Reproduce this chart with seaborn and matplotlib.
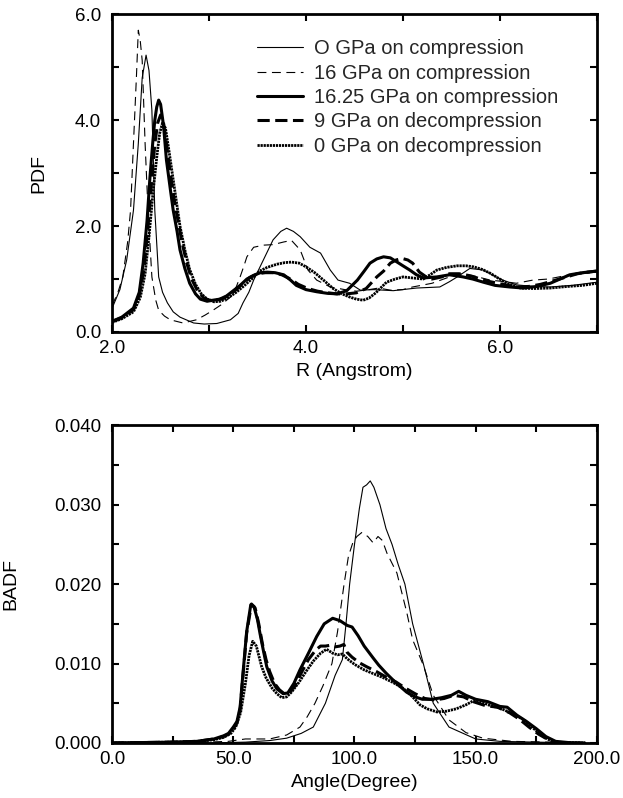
import pandas as pd
import matplotlib
matplotlib.use("Agg")
import matplotlib.pyplot as plt
import seaborn as sns
from matplotlib.ticker import MultipleLocator, FormatStrFormatter

# --- PDF (top panel) ---
r_0c = [2.00, 2.08, 2.15, 2.22, 2.27, 2.31, 2.35, 2.38, 2.41, 2.44, 2.48, 2.52, 2.57, 2.63, 2.70,
        2.84, 2.95, 3.08, 3.22, 3.30, 3.35, 3.41, 3.46, 3.56, 3.66, 3.74, 3.80, 3.87, 3.94, 4.04,
        4.15, 4.25, 4.33, 4.45, 4.56, 4.70, 4.90, 5.14, 5.38, 5.48, 5.56, 5.69, 5.83, 5.95, 6.03,
        6.17, 6.35, 6.52, 6.75, 7.00]
pdf_0c = [0.45, 0.8, 1.36, 2.3, 3.56, 4.8, 5.23, 4.94, 4.19, 2.3, 1.04, 0.75, 0.55, 0.38, 0.28,
          0.17, 0.15, 0.16, 0.23, 0.35, 0.55, 0.75, 0.98, 1.36, 1.74, 1.9, 1.96, 1.9, 1.8, 1.6,
          1.49, 1.17, 0.98, 0.92, 0.79, 0.8, 0.78, 0.83, 0.85, 0.95, 1.04, 1.2, 1.17, 1.05, 0.98,
          0.89, 0.86, 0.85, 0.88, 0.94]

r_16c = [2.00, 2.06, 2.11, 2.16, 2.19, 2.22, 2.25, 2.27, 2.29, 2.31, 2.34, 2.37, 2.41, 2.45, 2.48,
         2.54, 2.60, 2.73, 2.87, 2.96, 3.04, 3.13, 3.22, 3.28, 3.32, 3.36, 3.39, 3.46, 3.56, 3.66,
         3.77, 3.85, 3.94, 4.02, 4.11, 4.25, 4.40, 4.52, 4.65, 4.75, 4.87, 5.00, 5.10, 5.30, 5.48,
         5.60, 5.75, 5.90, 6.05, 6.17, 6.34, 6.50, 6.69, 6.85, 7.00]
pdf_16c = [0.5, 0.75, 1.04, 1.7, 2.3, 3.56, 4.8, 5.7, 5.5, 5.13, 3.56, 2.3, 1.04, 0.6, 0.41,
           0.3, 0.23, 0.17, 0.23, 0.32, 0.41, 0.52, 0.66, 0.85, 1.04, 1.25, 1.42, 1.6, 1.64, 1.65,
           1.7, 1.73, 1.55, 1.17, 0.98, 0.85, 0.8, 0.77, 0.8, 0.83, 0.79, 0.8, 0.85, 0.92, 1.04,
           1.1, 1.05, 0.98, 0.95, 0.92, 0.98, 1.0, 1.07, 1.1, 1.13]

r_1625c = [2.00, 2.10, 2.22, 2.28, 2.32, 2.36, 2.39, 2.42, 2.44, 2.46, 2.48, 2.50, 2.53, 2.56, 2.60,
           2.63, 2.67, 2.70, 2.75, 2.80, 2.86, 2.91, 2.98, 3.04, 3.11, 3.18, 3.25, 3.32, 3.39, 3.46,
           3.53, 3.60, 3.68, 3.77, 3.84, 3.90, 4.00, 4.11, 4.22, 4.32, 4.42, 4.53, 4.60, 4.66, 4.73,
           4.80, 4.87, 4.94, 5.00, 5.07, 5.14, 5.21, 5.35, 5.48, 5.62, 5.72, 5.83, 5.95, 6.10, 6.24,
           6.38, 6.52, 6.62, 6.72, 6.85, 7.00]
pdf_1625c = [0.2, 0.28, 0.45, 0.75, 1.3, 2.1, 2.92, 3.6, 4.0, 4.25, 4.38, 4.3, 3.9, 3.25, 2.7,
             2.3, 1.9, 1.55, 1.2, 0.92, 0.72, 0.62, 0.58, 0.6, 0.62, 0.68, 0.78, 0.88, 1.0, 1.07,
             1.12, 1.13, 1.12, 1.08, 0.98, 0.88, 0.8, 0.76, 0.73, 0.72, 0.78, 0.98, 1.15, 1.3, 1.38,
             1.42, 1.4, 1.32, 1.25, 1.17, 1.08, 1.02, 1.04, 1.08, 1.04, 1.0, 0.94, 0.88, 0.85, 0.83,
             0.86, 0.92, 1.0, 1.08, 1.12, 1.15]

r_9d = [2.00, 2.10, 2.22, 2.28, 2.33, 2.37, 2.41, 2.44, 2.47, 2.50, 2.53, 2.56, 2.60, 2.64, 2.68,
        2.72, 2.77, 2.82, 2.88, 2.94, 3.00, 3.07, 3.14, 3.21, 3.28, 3.35, 3.42, 3.50, 3.58, 3.66,
        3.75, 3.84, 3.92, 4.02, 4.12, 4.22, 4.32, 4.42, 4.52, 4.62, 4.73, 4.80, 4.87, 4.93, 4.99,
        5.05, 5.10, 5.17, 5.24, 5.30, 5.40, 5.48, 5.58, 5.70, 5.80, 5.90, 6.03, 6.17, 6.30, 6.42,
        6.52, 6.65, 6.80, 6.90, 7.00]
pdf_9d = [0.2, 0.27, 0.42, 0.7, 1.2, 2.0, 2.9, 3.55, 3.95, 4.1, 3.95, 3.55, 3.0, 2.5, 2.1,
          1.7, 1.3, 1.0, 0.78, 0.65, 0.6, 0.6, 0.63, 0.7, 0.8, 0.92, 1.03, 1.1, 1.12, 1.12,
          1.08, 1.0, 0.9, 0.82, 0.77, 0.74, 0.72, 0.72, 0.74, 0.82, 1.04, 1.15, 1.3, 1.36, 1.39,
          1.36, 1.3, 1.13, 1.04, 1.0, 1.04, 1.1, 1.1, 1.06, 1.0, 0.95, 0.9, 0.85, 0.86, 0.9,
          0.95, 1.02, 1.1, 1.13, 1.15]

r_0d = [2.00, 2.10, 2.22, 2.29, 2.34, 2.38, 2.42, 2.46, 2.49, 2.52, 2.55, 2.58, 2.62, 2.66, 2.70,
        2.75, 2.80, 2.86, 2.92, 2.98, 3.05, 3.12, 3.20, 3.28, 3.36, 3.44, 3.52, 3.60, 3.70, 3.78,
        3.85, 3.93, 4.00, 4.09, 4.18, 4.28, 4.37, 4.45, 4.52, 4.59, 4.65, 4.72, 4.83, 4.92, 5.00,
        5.10, 5.21, 5.28, 5.35, 5.45, 5.56, 5.65, 5.73, 5.82, 5.90, 5.98, 6.07, 6.21, 6.35, 6.52,
        6.70, 6.85, 7.00]
pdf_0d = [0.18, 0.25, 0.38, 0.65, 1.1, 1.8, 2.6, 3.3, 3.75, 3.95, 3.85, 3.5, 3.0, 2.5, 2.0,
          1.55, 1.18, 0.9, 0.72, 0.62, 0.57, 0.58, 0.65, 0.75, 0.87, 1.0, 1.15, 1.22, 1.28, 1.31,
          1.32, 1.3, 1.23, 1.12, 0.98, 0.82, 0.72, 0.66, 0.62, 0.6, 0.64, 0.74, 0.94, 1.0, 1.04,
          1.02, 1.0, 1.08, 1.17, 1.22, 1.25, 1.25, 1.23, 1.18, 1.11, 1.02, 0.92, 0.83, 0.82, 0.83,
          0.86, 0.88, 0.92]

# --- BADF (bottom panel) ---
a_0c = [0, 20, 40, 55, 65, 72, 78, 83, 88, 92, 95, 96.5, 98, 100, 102, 103.5, 105, 106.5, 108,
        110.5, 113, 115.5, 118, 120.8, 124, 128.4, 132.5, 139, 150, 160, 175, 195]
b_0c = [0, 0, 0, 0.0001, 0.0003, 0.0006, 0.0012, 0.002, 0.005, 0.0085, 0.0105, 0.015, 0.020,
        0.025, 0.0295, 0.0322, 0.0325, 0.033, 0.0322, 0.030, 0.027, 0.025, 0.0225, 0.020, 0.015,
        0.010, 0.005, 0.002, 0.0005, 0.0002, 0.0001, 0]

a_16c = [0, 30, 48, 55, 65, 72, 77.5, 80.5, 83.7, 87, 90.7, 93, 95.7, 97.5, 99.4, 101, 103, 105.5,
         107.7, 109.7, 111.5, 113.4, 117.5, 121.6, 124, 128.4, 132.5, 139, 146, 153, 165, 195]
b_16c = [0, 0, 0.0002, 0.0005, 0.0005, 0.001, 0.002, 0.0033, 0.005, 0.0072, 0.010, 0.014, 0.020,
         0.0235, 0.0253, 0.026, 0.0265, 0.026, 0.0252, 0.026, 0.0255, 0.0239, 0.0214, 0.0164,
         0.013, 0.0098, 0.006, 0.0029, 0.0013, 0.0006, 0.0002, 0]

a_1625c = [0, 25, 35, 42, 46, 48, 50, 51.5, 52.8, 54, 55.5, 57.2, 58.5, 60, 61, 62.5, 63.8, 66, 68,
           70.6, 72.5, 75, 77.5, 81, 84.4, 87.5, 91, 94, 97, 99, 101.5, 104, 107.7, 110, 113, 117,
           121.5, 125, 128, 132, 136, 140, 143, 146, 150, 155, 160, 163, 167, 171, 175, 179, 183,
           190, 195]
b_1625c = [0, 0.0001, 0.0002, 0.0005, 0.0009, 0.0012, 0.002, 0.0027, 0.0045, 0.0088, 0.014, 0.0174,
           0.0172, 0.0155, 0.0138, 0.0115, 0.0096, 0.0078, 0.0068, 0.0062, 0.0063, 0.0075, 0.0092,
           0.0113, 0.0134, 0.015, 0.0157, 0.0154, 0.0148, 0.0146, 0.0135, 0.0122, 0.0107, 0.0098,
           0.0088, 0.0076, 0.0064, 0.0058, 0.0055, 0.0055, 0.0057, 0.006, 0.0065, 0.006, 0.0055,
           0.0052, 0.0046, 0.0045, 0.0035, 0.0027, 0.0018, 0.0008, 0.0002, 0.0, 0.0]

a_9d = [0, 25, 35, 42, 46, 48, 50, 51.5, 52.8, 54, 55.5, 57.5, 59, 60.5, 62, 63.5, 65, 67, 69, 71,
        73, 75.5, 78, 81, 84, 86, 88, 90, 92, 94, 95.6, 97, 99, 102, 105, 109, 113, 117, 121, 125,
        129, 133, 137, 141, 145, 149, 154, 159, 164, 168, 172, 176, 180, 184, 195]
b_9d = [0, 0.0001, 0.0002, 0.0005, 0.0008, 0.0011, 0.0018, 0.0025, 0.0042, 0.0085, 0.0138, 0.0175,
        0.017, 0.015, 0.0125, 0.0105, 0.009, 0.0075, 0.0067, 0.0062, 0.0063, 0.0072, 0.0088,
        0.0105, 0.0117, 0.0122, 0.0122, 0.0123, 0.0121, 0.0122, 0.0124, 0.0114, 0.0108, 0.0101,
        0.0096, 0.009, 0.0083, 0.0077, 0.0069, 0.0062, 0.0056, 0.0054, 0.0056, 0.006, 0.0058,
        0.0052, 0.0047, 0.0045, 0.0038, 0.003, 0.002, 0.0011, 0.0004, 0.0, 0.0]

a_0d = [0, 25, 35, 42, 46, 49, 51, 53, 55, 56.5, 58, 59.5, 61.7, 63.5, 66, 68, 70, 72, 74, 77, 80,
        83, 86, 88.5, 91, 93, 95, 97, 100, 104, 108, 112, 116, 120, 124, 127, 130, 134, 138, 142,
        146, 149, 152, 156, 160, 165, 170, 174, 178, 182, 195]
b_0d = [0, 0.0001, 0.0002, 0.0004, 0.0007, 0.0012, 0.002, 0.0038, 0.0075, 0.011, 0.0128, 0.0122,
        0.0096, 0.0082, 0.0069, 0.0062, 0.0057, 0.0058, 0.0064, 0.0076, 0.009, 0.0103, 0.0113,
        0.0118, 0.0113, 0.0111, 0.0112, 0.0106, 0.0099, 0.0092, 0.0087, 0.0082, 0.0076, 0.0069,
        0.0058, 0.0048, 0.0043, 0.0039, 0.004, 0.0043, 0.0048, 0.0053, 0.0052, 0.0047, 0.0044,
        0.0037, 0.0029, 0.0018, 0.0008, 0.0001, 0]

labels = ["O GPa on compression", "16 GPa on compression", "16.25 GPa on compression",
          "9 GPa on decompression", "0 GPa on decompression"]
styles = [dict(lw=0.8, ls="-"),
          dict(lw=0.8, ls=(0, (8, 5))),
          dict(lw=2.2, ls="-"),
          dict(lw=2.2, ls=(0, (4, 1.8))),
          dict(lw=2.0, ls=(0, (0.8, 0.3)))]

sns.set_theme(style="ticks")
plt.rcParams["font.family"] = ["Liberation Sans", "DejaVu Sans"]

fig = plt.figure(figsize=(6.23, 7.98), dpi=100)
ax1 = fig.add_axes([0.18, 0.584, 0.778, 0.398])
ax2 = fig.add_axes([0.18, 0.069, 0.778, 0.398])

top = [(r_0c, pdf_0c), (r_16c, pdf_16c), (r_1625c, pdf_1625c), (r_9d, pdf_9d), (r_0d, pdf_0d)]
bot = [(a_0c, b_0c), (a_16c, b_16c), (a_1625c, b_1625c), (a_9d, b_9d), (a_0d, b_0d)]

for (x, y), lab, st in zip(top, labels, styles):
    sns.lineplot(x=x, y=y, ax=ax1, color="black", linewidth=st["lw"], linestyle=st["ls"],
                 label=lab, estimator=None)
for (x, y), st in zip(bot, styles):
    sns.lineplot(x=x, y=y, ax=ax2, color="black", linewidth=st["lw"], linestyle=st["ls"],
                 estimator=None)

ax1.set_xlim(2.0, 7.0)
ax1.set_ylim(0.0, 6.0)
ax1.xaxis.set_major_locator(MultipleLocator(2.0))
ax1.xaxis.set_minor_locator(MultipleLocator(1.0))
ax1.yaxis.set_major_locator(MultipleLocator(2.0))
ax1.yaxis.set_minor_locator(MultipleLocator(1.0))
ax1.xaxis.set_major_formatter(FormatStrFormatter("%.1f"))
ax1.yaxis.set_major_formatter(FormatStrFormatter("%.1f"))
ax1.set_xlabel("R (Angstrom)", fontsize=14)
ax1.set_ylabel("PDF", fontsize=14)
ax1.yaxis.set_label_coords(-0.134, 0.5)

ax2.set_xlim(0, 200)
ax2.set_ylim(0, 0.040)
ax2.xaxis.set_major_locator(MultipleLocator(50))
ax2.xaxis.set_minor_locator(MultipleLocator(25))
ax2.yaxis.set_major_locator(MultipleLocator(0.010))
ax2.yaxis.set_minor_locator(MultipleLocator(0.005))
ax2.xaxis.set_major_formatter(FormatStrFormatter("%.1f"))
ax2.yaxis.set_major_formatter(FormatStrFormatter("%.3f"))
ax2.set_xlabel("Angle(Degree)", fontsize=14)
ax2.set_ylabel("BADF", fontsize=14)
ax2.yaxis.set_label_coords(-0.192, 0.5)

for ax in (ax1, ax2):
    for sp in ax.spines.values():
        sp.set_linewidth(2.0)
        sp.set_color("black")
        sp.set_visible(True)
    ax.tick_params(which="both", direction="in", top=True, right=True, color="black",
                   labelsize=13.5, labelcolor="black")
    ax.tick_params(which="major", length=5, width=1.5)
    ax.tick_params(which="minor", length=5, width=1.5)
    ax.tick_params(axis="x", pad=6)
    ax.tick_params(axis="y", pad=8)
    ax.xaxis.label.set_color("black")
    ax.yaxis.label.set_color("black")

if ax2.get_legend() is not None:
    ax2.get_legend().remove()

ax1.legend(loc="upper left", bbox_to_anchor=(0.299, 0.922), frameon=False, fontsize=14.5,
           handlelength=2.3, handletextpad=0.55, labelspacing=0.27, borderpad=0,
           borderaxespad=0)

fig.savefig("out.png", dpi=100)
